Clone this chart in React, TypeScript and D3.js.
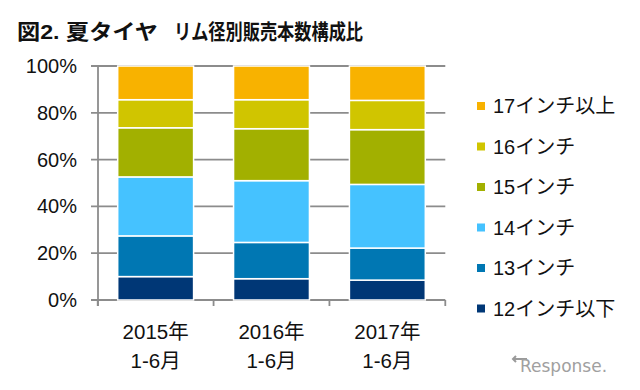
import React from "react";
import * as d3 from "d3";

// categories (two-line labels) and series, bottom to top
const years = ["2015年", "2016年", "2017年"];
const periods = ["1-6月", "1-6月", "1-6月"];
const seriesNames = ["12インチ以下", "13インチ", "14インチ", "15インチ", "16インチ", "17インチ以上"];
const seriesColors = ["#003776", "#0077b3", "#45c2ff", "#a2b000", "#d0c500", "#f8b200"];

// shares (%) per category
const inch12 = [10.0, 9.1, 8.5];
const inch13 = [17.4, 15.5, 13.7];
const inch14 = [25.2, 26.4, 27.2];
const inch15 = [21.0, 22.2, 23.4];
const inch16 = [12.0, 12.4, 12.5];
const inch17 = [14.4, 14.4, 14.7];

const yTicks = [0, 0.2, 0.4, 0.6, 0.8, 1];

const W = 640;
const H = 390;
const font = "'Liberation Sans', Arial, 'Noto Sans CJK JP', sans-serif";

export default function App() {
  const values = [inch12, inch13, inch14, inch15, inch16, inch17];
  const rows = years.map((y, i) => {
    const row: any = { year: y };
    seriesNames.forEach((s, k) => (row[s] = values[k][i] / 100));
    return row;
  });
  const stacked = d3.stack().keys(seriesNames)(rows);

  const x = d3.scaleBand().domain(years).range([98, 445]).paddingInner(0.345).paddingOuter(0.17);
  const y = d3.scaleLinear().domain([0, 1]).range([300, 66]);
  const step = x.step();
  const bw = x.bandwidth();
  const edges = years.map((c) => (x(c) as number) + bw / 2 - step / 2);
  edges.push((x(years[years.length - 1]) as number) + bw / 2 + step / 2);

  const grid = "#8c8c8c";

  return (
    <svg width={W} height={H} style={{ position: "absolute", left: 0, top: 0, background: "#fff" }} fontFamily={font}>
      <g fontSize={21} fontWeight="bold" fill="#111">
        <text x={17} y={39} textLength={141} lengthAdjust="spacingAndGlyphs">
          図2. 夏タイヤ
        </text>
        <text x={174} y={39} textLength={189} lengthAdjust="spacingAndGlyphs">
          リム径別販売本数構成比
        </text>
      </g>

      {/* gridlines + y ticks */}
      {yTicks.map((t) => (
        <g key={t}>
          <line x1={91} x2={edges[edges.length - 1]} y1={y(t)} y2={y(t)} stroke={grid} strokeWidth={1.8} />
          <text x={77} y={y(t) + 7} fontSize={20} textAnchor="end" fill="#111">
            {Math.round(t * 100)}%
          </text>
        </g>
      ))}

      {/* axes */}
      <line x1={98} x2={98} y1={y(1)} y2={y(0) + 6} stroke={grid} strokeWidth={1.8} />
      {edges.map((e, i) => (
        <line key={i} x1={e} x2={e} y1={y(0)} y2={y(0) + 6} stroke={grid} strokeWidth={1.8} />
      ))}

      {/* stacked bars */}
      {stacked.map((s, k) => (
        <g key={s.key}>
          {s.map((d, i) => (
            <rect
              key={i}
              x={x(years[i])}
              width={bw}
              y={y(d[1])}
              height={y(d[0]) - y(d[1])}
              fill={seriesColors[k]}
              stroke="#fff"
              strokeWidth={1.5}
            />
          ))}
        </g>
      ))}

      {/* x labels */}
      {years.map((c, i) => (
        <g key={c}>
          <text x={(x(c) as number) + bw / 2} y={339} fontSize={20.5} textAnchor="middle" fill="#111">
            {c}
          </text>
          <text x={(x(c) as number) + bw / 2} y={368} fontSize={20.5} textAnchor="middle" fill="#111">
            {periods[i]}
          </text>
        </g>
      ))}

      {/* legend, top item first */}
      {seriesNames
        .slice()
        .reverse()
        .map((s, i) => {
          const cy = 106 + i * 40.5;
          const color = seriesColors[seriesNames.length - 1 - i];
          return (
            <g key={s}>
              <rect x={477} y={cy - 4} width={8} height={8} fill={color} />
              <text x={493} y={cy + 7} fontSize={20} fill="#111">
                {s}
              </text>
            </g>
          );
        })}

      {/* watermark */}
      <g>
        <path d="M516 356 l-3 3 l3 3 M513 359 h14" stroke="#9a9a9a" strokeWidth={2} fill="none" />
        <text x={520} y={372} fontSize={17} fill="#a0a0a0" fontFamily="'DejaVu Sans', sans-serif">
          Response.
        </text>
      </g>
    </svg>
  );
}
